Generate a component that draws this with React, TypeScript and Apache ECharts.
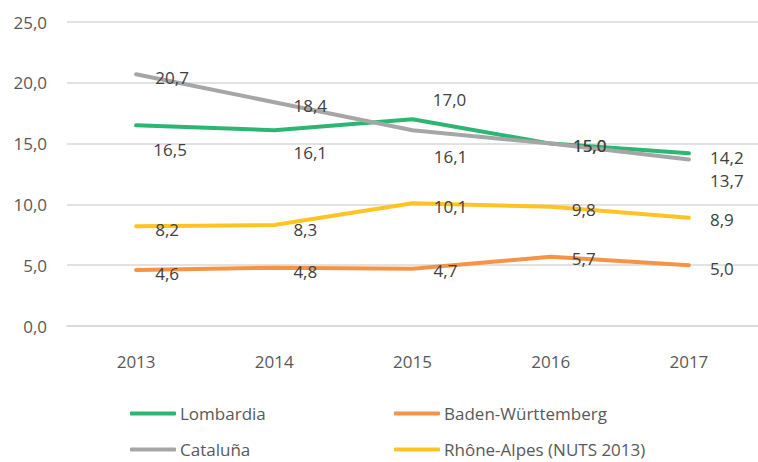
import React, { useEffect, useRef } from "react";
import * as echarts from "echarts";

const years = ["2013", "2014", "2015", "2016", "2017"];
const lombardia = [16.5, 16.1, 17.0, 15.0, 14.2];
const baden = [4.6, 4.8, 4.7, 5.7, 5.0];
const cataluna = [20.7, 18.4, 16.1, 15.0, 13.7];
const rhone = [8.2, 8.3, 10.1, 9.8, 8.9];
const yTicks = { min: 0, max: 25, interval: 5 };

// label offsets (style only)
const offLomb = [[34, 24], [36, 22], [37, -20], [39, 2], [38, 4]];
const offBaden = [[31, 3], [31, 4], [33, 2], [33, 2], [33, 3]];
const offCat = [[36, 3], [36, 3], [38, 26], [39, 2], [38, 21]];
const offRhone = [[31, 3], [31, 4], [38, 3], [33, 3], [33, 2]];

const FONT = "'Open Sans', sans-serif";
const TXT = "#404040";
const fmt = (v: number) => v.toFixed(1).replace(".", ",");

function mkSeries(name: string, vals: number[], offs: number[][], color: string) {
  return {
    name,
    type: "line",
    symbol: "circle",
    symbolSize: 1,
    showSymbol: true,
    lineStyle: { color, width: 4, cap: "round", join: "round" },
    itemStyle: { color },
    emphasis: { disabled: true },
    data: vals.map((v, i) => ({
      value: v,
      label: { offset: offs[i] },
    })),
    label: {
      show: true,
      position: "inside",
      formatter: (p: any) => fmt(p.value),
      color: TXT,
      fontFamily: FONT,
      fontSize: 17,
    },
  };
}

function legend(name: string, color: string, left: number, top: number) {
  return {
    data: [name],
    left,
    top,
    icon: "roundRect",
    itemWidth: 46,
    itemHeight: 4,
    itemGap: 0,
    padding: 0,
    selectedMode: false,
    itemStyle: { color },
    lineStyle: { color, width: 4 },
    textStyle: { color: "#595959", fontFamily: FONT, fontSize: 17, padding: [0, 0, 0, -1] },
  };
}

export default function App() {
  const ref = useRef<HTMLDivElement>(null);
  useEffect(() => {
    document.body.style.margin = "0";
    const chart = echarts.init(ref.current!, null, { renderer: "svg" });
    chart.setOption({
      animation: false,
      backgroundColor: "#ffffff",
      grid: { left: 67, top: 22, height: 304, width: 698, containLabel: false },
      xAxis: {
        type: "category",
        data: years,
        boundaryGap: true,
        axisLine: { show: true, lineStyle: { color: "#D9D9D9", width: 1.5 } },
        axisTick: { show: false },
        axisLabel: { color: "#595959", fontFamily: FONT, fontSize: 17, margin: 27 },
      },
      yAxis: {
        type: "value",
        min: yTicks.min,
        max: yTicks.max,
        interval: yTicks.interval,
        axisLine: { show: false },
        axisTick: { show: false },
        splitLine: { lineStyle: { color: "#D9D9D9", width: 1.5 } },
        axisLabel: {
          color: "#595959",
          fontFamily: FONT,
          fontSize: 17,
          margin: 20,
          formatter: (v: number) => fmt(v),
        },
      },
      legend: [
        legend("Lombardia", "#2BB673", 130, 405),
        legend("Baden-Württemberg", "#F39449", 394, 405),
        legend("Cataluña", "#A6A6A6", 130, 441),
        legend("Rhône-Alpes (NUTS 2013)", "#FFC423", 394, 441),
      ],
      series: [
        mkSeries("Lombardia", lombardia, offLomb, "#2BB673"),
        mkSeries("Baden-Württemberg", baden, offBaden, "#F39449"),
        mkSeries("Cataluña", cataluna, offCat, "#A6A6A6"),
        mkSeries("Rhône-Alpes (NUTS 2013)", rhone, offRhone, "#FFC423"),
      ],
    });
    return () => chart.dispose();
  }, []);
  return <div ref={ref} style={{ width: 758, height: 462 }} />;
}
